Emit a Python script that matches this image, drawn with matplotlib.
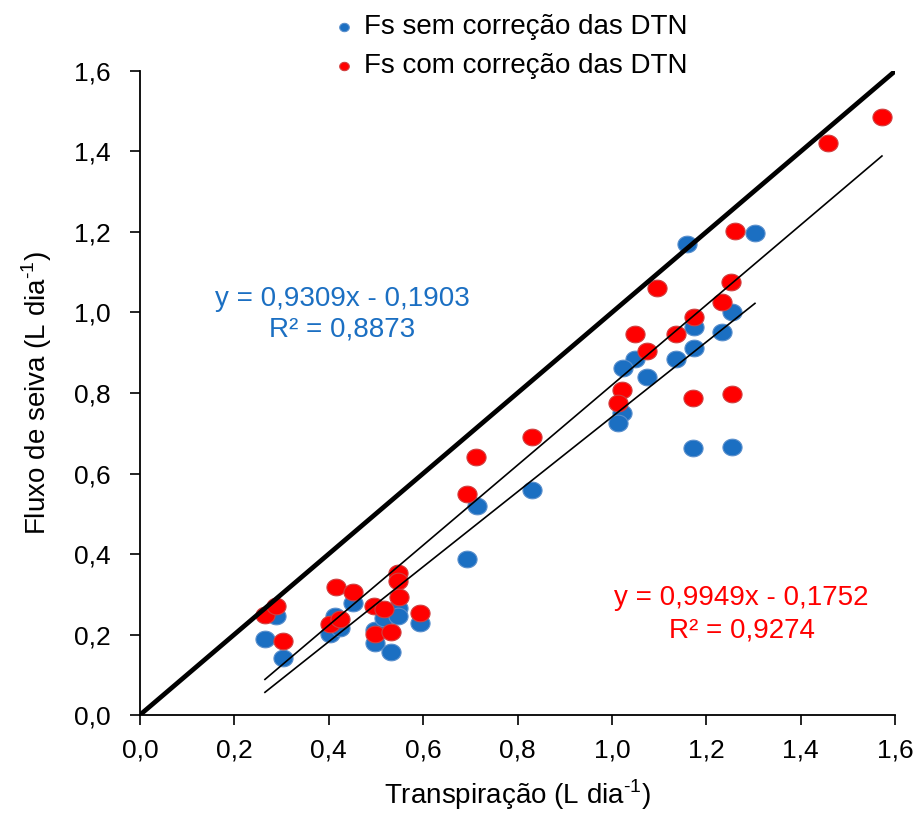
import matplotlib
matplotlib.use("Agg")
import matplotlib.pyplot as plt
import numpy as np
from matplotlib.path import Path
from matplotlib.ticker import FuncFormatter

plt.rcParams['font.family'] = ['Liberation Sans', 'DejaVu Sans']
plt.rcParams['mathtext.fontset'] = 'custom'
plt.rcParams['mathtext.rm'] = 'Liberation Sans'

# Data: Transpiração (x) vs Fluxo de seiva (y)
x_sem = [0.265, 0.288, 0.303, 0.413, 0.403, 0.424, 0.451, 0.498, 0.498, 0.517,
         0.532, 0.547, 0.547, 0.593, 0.714, 0.831, 0.693,
         1.254, 1.174, 1.233, 1.174, 1.049, 1.136, 1.024, 1.074, 1.021, 1.013,
         1.171, 1.254, 1.159, 1.303]
y_sem = [0.189, 0.246, 0.142, 0.246, 0.201, 0.216, 0.278, 0.211, 0.179, 0.241,
         0.157, 0.266, 0.246, 0.229, 0.519, 0.559, 0.388,
         1.001, 0.964, 0.952, 0.911, 0.884, 0.885, 0.862, 0.839, 0.751, 0.725,
         0.663, 0.666, 1.170, 1.198]

x_com = [0.265, 0.288, 0.303, 0.415, 0.451, 0.403, 0.424, 0.496, 0.517, 0.498,
         0.532, 0.547, 0.547, 0.549, 0.593, 0.831, 0.712, 0.693,
         1.233, 1.174, 1.049, 1.136, 1.074, 1.021, 1.171, 1.254, 1.013,
         1.261, 1.252, 1.095, 1.458, 1.572]
y_com = [0.248, 0.271, 0.184, 0.318, 0.306, 0.226, 0.238, 0.271, 0.263, 0.201,
         0.206, 0.352, 0.333, 0.293, 0.253, 0.691, 0.641, 0.549,
         1.026, 0.989, 0.947, 0.946, 0.905, 0.807, 0.788, 0.797, 0.775,
         1.202, 1.076, 1.061, 1.421, 1.486]

# Regression coefficients (from chart)
slope_sem, icpt_sem, r2_sem = 0.9309, -0.1903, 0.8873
slope_com, icpt_com, r2_com = 0.9949, -0.1752, 0.9274

ticks = [0.0, 0.2, 0.4, 0.6, 0.8, 1.0, 1.2, 1.4, 1.6]

blue = '#1B6FC2'
red = '#FF0000'

# ellipse marker (slightly wider than tall)
t = np.linspace(0, 2 * np.pi, 60)
ell = Path(np.column_stack([1.15 * np.cos(t), np.sin(t)]), closed=True)

fig = plt.figure(figsize=(9.2, 8.14), dpi=100)
ax = fig.add_axes([0.152, 0.1216, 0.821, 0.7912])

ax.scatter(x_sem, y_sem, s=190, marker=ell, color=blue, edgecolor='#5A8FCC',
           linewidth=0.8, zorder=3, label='Fs sem correção das DTN')
ax.scatter(x_com, y_com, s=190, marker=ell, color=red, edgecolor='#D04040',
           linewidth=0.8, zorder=4, label='Fs com correção das DTN')

# 1:1 line
ax.plot([0, 1.6], [0, 1.6], color='black', lw=3.4, zorder=5, solid_capstyle='butt')

# trend lines
xs = np.array([min(x_sem), max(x_sem)])
ax.plot(xs, slope_sem * xs + icpt_sem, color='black', lw=1.2, zorder=5)
xc = np.array([min(x_com), max(x_com)])
ax.plot(xc, slope_com * xc + icpt_com, color='black', lw=1.2, zorder=5)

FS = 20
fmt = lambda v: f"{v:.4f}".replace('.', ',')
ax.text(0.428, 1.033, f"y = {fmt(slope_sem)}x - {fmt(-icpt_sem)}", color=blue,
        fontsize=FS, ha='center', va='center')
ax.text(0.428, 0.957, f"R² = {fmt(r2_sem)}", color=blue,
        fontsize=FS, ha='center', va='center')
ax.text(1.275, 0.291, f"y = {fmt(slope_com)}x - {fmt(-icpt_com)}", color=red,
        fontsize=FS, ha='center', va='center')
ax.text(1.275, 0.211, f"R² = {fmt(r2_com)}", color=red,
        fontsize=FS, ha='center', va='center')

ax.set_xlim(0, 1.6)
ax.set_ylim(0, 1.6)
ax.set_xticks(ticks)
ax.set_yticks(ticks)
comma = FuncFormatter(lambda v, p: f"{v:.1f}".replace('.', ','))
ax.xaxis.set_major_formatter(comma)
ax.yaxis.set_major_formatter(comma)
ax.tick_params(direction='out', length=7, width=1.2, labelsize=19)
ax.tick_params(axis='x', pad=10)
ax.tick_params(axis='y', pad=14)
for s in ['top', 'right']:
    ax.spines[s].set_visible(False)
for s in ['left', 'bottom']:
    ax.spines[s].set_linewidth(1.3)

sup = '$^{\\text{-1}}$'
ax.set_xlabel('Transpiração (L dia' + sup + ')', fontsize=FS, labelpad=11)
ax.set_ylabel('Fluxo de seiva (L dia' + sup + ')', fontsize=FS, labelpad=14)

leg = fig.legend(loc='upper left', bbox_to_anchor=(0.335, 1.013), frameon=False,
                 fontsize=FS, handletextpad=0.3, labelspacing=0.45,
                 markerscale=0.5, handlelength=0.8)

fig.savefig('out.png', dpi=100)
